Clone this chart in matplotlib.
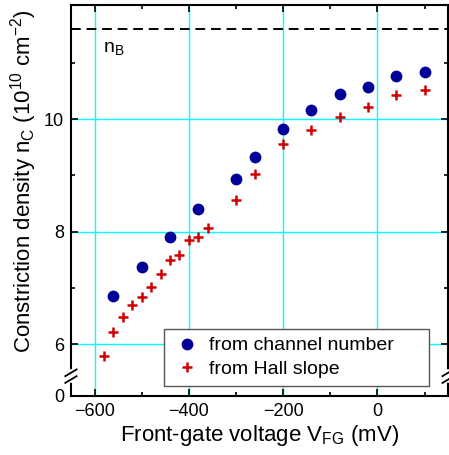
import matplotlib
matplotlib.use("Agg")
import matplotlib.pyplot as plt

plt.rcParams["font.family"] = ["Liberation Sans", "DejaVu Sans"]
plt.rcParams["mathtext.fontset"] = "custom"
plt.rcParams["mathtext.rm"] = "Liberation Sans"
plt.rcParams["mathtext.it"] = "Liberation Sans"

# channel number estimate
v_channel = [-560, -500, -440, -380, -300, -260, -200, -140, -80, -20, 40, 100]
n_channel = [6.85, 7.37, 7.91, 8.40, 8.94, 9.33, 9.83, 10.16, 10.45, 10.57, 10.76, 10.84]

# Hall slope estimate
v_hall = [-580, -560, -540, -520, -500, -480, -460, -440, -420, -400, -380, -360,
          -300, -260, -200, -140, -80, -20, 40, 100]
n_hall = [5.79, 6.22, 6.48, 6.69, 6.83, 7.02, 7.25, 7.50, 7.59, 7.85, 7.91, 8.06,
          8.56, 9.02, 9.56, 9.80, 10.03, 10.21, 10.43, 10.52]

n_B = 11.6
y_bottom = 5.08   # shown as "0" below the axis break
y_break = 5.43

fig = plt.figure(figsize=(4.49, 4.55), dpi=100)
ax = fig.add_axes([0.158, 0.13, 0.84, 0.859])

ax.set_xlim(-650, 150)
ax.set_ylim(y_bottom, 12.03)

for x in [-600, -400, -200, 0]:
    ax.axvline(x, color="cyan", lw=1.0, zorder=0)
for y in [6, 8, 10]:
    ax.axhline(y, color="cyan", lw=1.0, zorder=0)

ax.axhline(n_B, color="black", lw=1.4, ls=(0, (5, 3)), zorder=1)
ax.text(-582, 11.2, r"n$_\mathrm{B}$", fontsize=14)

ax.plot(v_channel, n_channel, "o", color="#000099", ms=8.5, mec="none",
        label="from channel number", zorder=3)
ax.plot(v_hall, n_hall, "+", color="#D00000", ms=6.5, mew=1.8,
        label="from Hall slope", zorder=3)

ax.set_xticks([-600, -400, -200, 0])
ax.set_xticks([-500, -300, -100, 100], minor=True)
ax.set_yticks([y_bottom, 6, 8, 10])
ax.set_yticklabels(["0", "6", "8", "10"])
ax.set_yticks([7, 9, 11], minor=True)
ax.tick_params(which="both", direction="in", top=True, right=True,
               labelsize=13, width=1.2, pad=5)
ax.tick_params(which="major", length=5)
ax.tick_params(which="minor", length=3)
for line in ax.yaxis.get_ticklines()[:2]:
    line.set_visible(False)

for s in ax.spines.values():
    s.set_linewidth(1.5)

# axis break marks on both vertical spines
for xa in [0, 1]:
    ax.plot([xa, xa], [y_break - 0.07, y_break + 0.07], color="white", lw=4,
            transform=ax.get_yaxis_transform(), clip_on=False, zorder=5)
    for dy in [-0.06, 0.06]:
        ax.plot([xa - 0.015, xa + 0.015], [y_break + dy - 0.06, y_break + dy + 0.06],
                color="black", lw=1.3, transform=ax.get_yaxis_transform(),
                clip_on=False, zorder=6)

ax.set_xlabel(r"Front-gate voltage V$_\mathrm{FG}$ (mV)", fontsize=16, labelpad=2)
ax.set_ylabel(r"Constriction density n$_\mathrm{C}$ (10$^{10}$ cm$^{-2}$)",
              fontsize=16)
ax.yaxis.set_label_coords(-0.085, 0.55)

leg = ax.legend(loc="lower left", bbox_to_anchor=(0.247, 0.026, 0.703, 0.153),
                mode="expand", borderaxespad=0, fontsize=14,
                fancybox=False, edgecolor="#555555", framealpha=1,
                handletextpad=0.3, borderpad=0.4, labelspacing=0.3,
                handlelength=1.6)
leg.get_frame().set_linewidth(1.0)

fig.savefig("out.png", dpi=100)
